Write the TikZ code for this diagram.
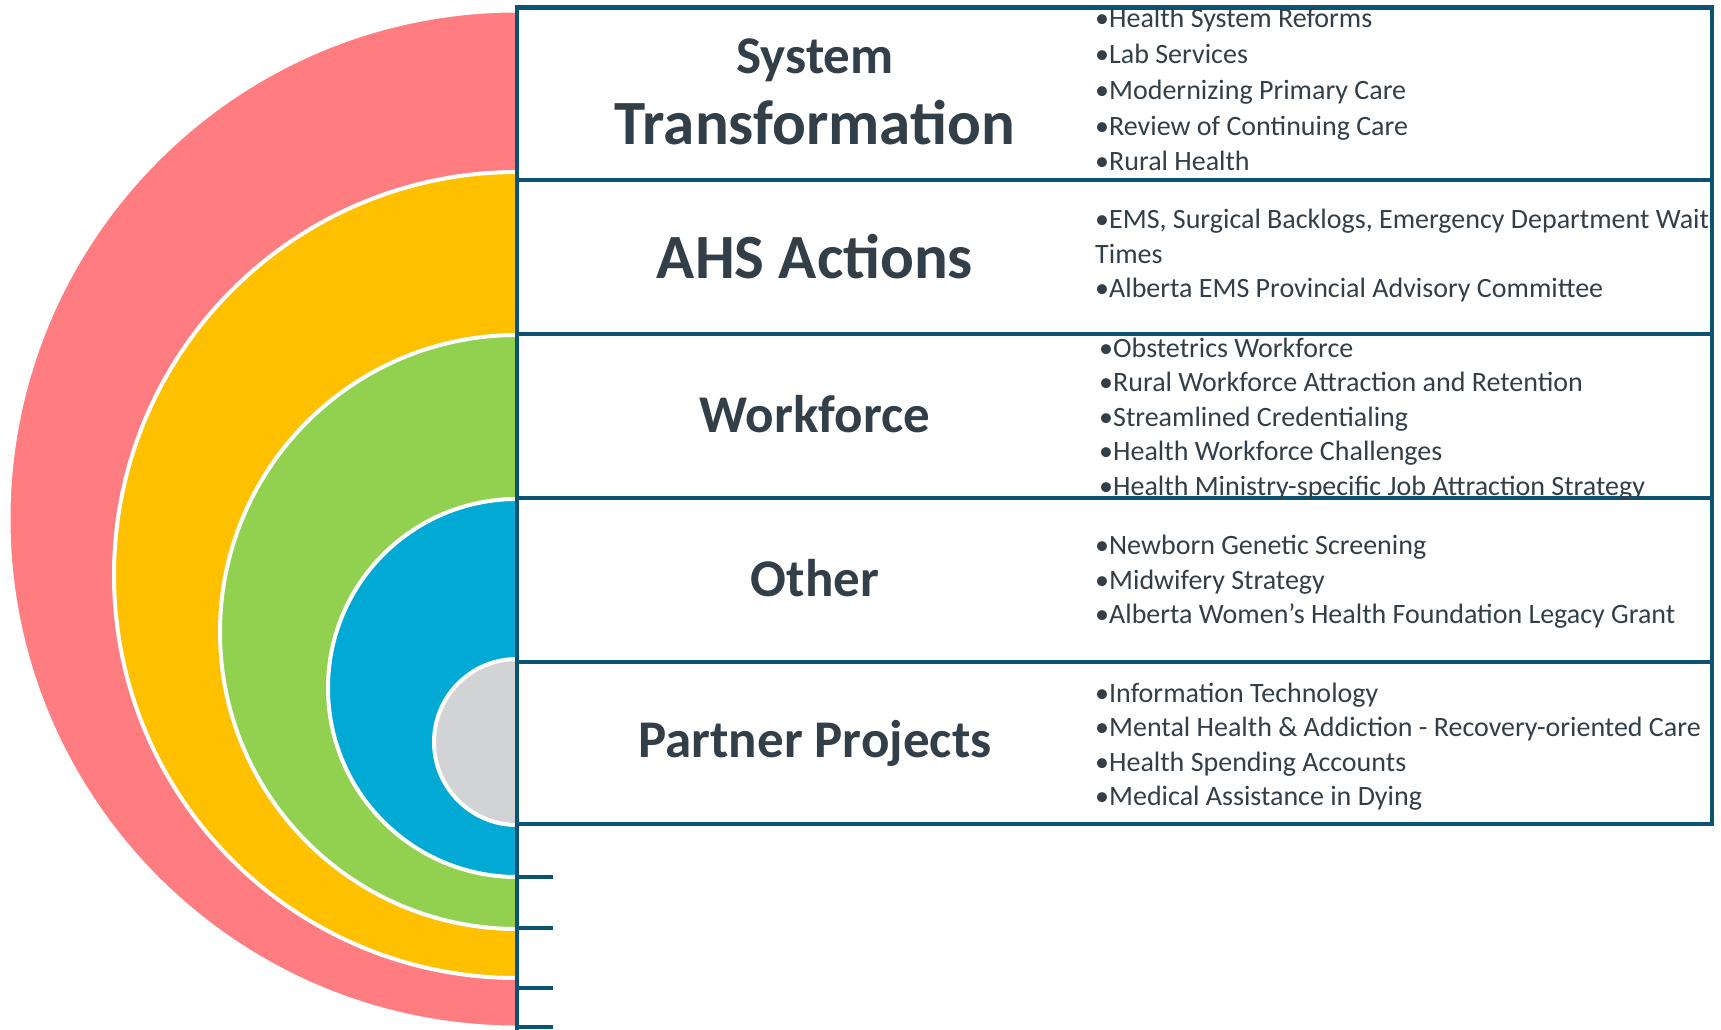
\documentclass[tikz,border=0pt]{standalone}
\usepackage{fontspec}
\setmainfont{Carlito}
\usepackage{tikz}
\usetikzlibrary{positioning}

\definecolor{ringred}{HTML}{FF7C80}
\definecolor{ringyellow}{HTML}{FFC000}
\definecolor{ringgreen}{HTML}{92D050}
\definecolor{ringblue}{HTML}{00AAD4}
\definecolor{ringgrey}{HTML}{D1D3D4}
\definecolor{framecol}{HTML}{0B5273}
\definecolor{inkcol}{HTML}{333F48}

\begin{document}
\begin{tikzpicture}[x=1pt, y=-1pt,
        panel/.style={rectangle, draw=framecol, line width=4.5pt, fill=white, minimum width=1195pt, inner sep=0pt, outer sep=0pt, anchor=north west},
        heading/.style={text=inkcol, font=\bfseries\fontsize{53pt}{71pt}\selectfont, align=center},
        items/.style={text=inkcol, font=\fontsize{28pt}{34.5pt}\selectfont, align=left, anchor=west, inner sep=0pt},
        ring/.style={draw=white, line width=4pt},
        frameline/.style={draw=framecol, line width=4.5pt}]
        \useasboundingbox (0,0) rectangle (1721,1030);

        % half discs, largest first
        \foreach \cy/\r/\col in {519/508.5/ringred, 575/403/ringyellow, 632/297/ringgreen, 688/189/ringblue, 742/83/ringgrey}
            \filldraw[ring, fill=\col] (517,\cy-\r) arc[start angle=270, end angle=90, radius=\r] -- cycle;

        % boxes
        \node (sysbox) [panel, minimum height=172.5pt] at (517,7.5) {};
        \node (ahsbox) [panel, minimum height=154pt] at (sysbox.south west) {};
        \node (workbox) [panel, minimum height=164pt] at (ahsbox.south west) {};
        \node (otherbox) [panel, minimum height=164pt] at (workbox.south west) {};
        \node (partbox) [panel, minimum height=162pt] at (otherbox.south west) {};

        % titles
        \node (systitle) [heading] at ([xshift=298pt, yshift=2pt]sysbox.west) {System\\\fontsize{63pt}{71pt}\selectfont Transformation};
        \node (ahstitle) [heading, font=\bfseries\fontsize{63pt}{71pt}\selectfont] at ([xshift=298pt]ahsbox.west) {AHS Actions};
        \node (worktitle) [heading] at ([xshift=298pt, yshift=2pt]workbox.west) {Workforce};
        \node (othertitle) [heading] at ([xshift=298pt, yshift=2pt]otherbox.west) {Other};
        \node (parttitle) [heading] at ([xshift=298pt]partbox.west) {Partner Projects};

        % item lists
        \node (syslist) [items, font=\fontsize{28pt}{35.7pt}\selectfont, right=578pt of sysbox.west, yshift=4pt] {•Health System Reforms\\•Lab Services\\•Modernizing Primary Care\\•Review of Continuing Care\\•Rural Health};
        \node (ahslist) [items, right=578pt of ahsbox.west, yshift=1pt] {•EMS, Surgical Backlogs, Emergency Department Wait\\Times\\•Alberta EMS Provincial Advisory Committee};
        \node (worklist) [items, right=582pt of workbox.west, yshift=-3pt] {•Obstetrics Workforce\\•Rural Workforce Attraction and Retention\\•Streamlined Credentialing\\•Health Workforce Challenges\\•Health Ministry-specific Job Attraction Strategy};
        \node (otherlist) [items, right=578pt of otherbox.west, yshift=-2pt] {•Newborn Genetic Screening\\•Midwifery Strategy\\•Alberta Women’s Health Foundation Legacy Grant};
        \node (partlist) [items, right=578pt of partbox.west, yshift=-3.5pt] {•Information Technology\\•Mental Health \& Addiction - Recovery-oriented Care\\•Health Spending Accounts\\•Medical Assistance in Dying};

        % left rule and ticks
        \draw[frameline] (sysbox.north west) -- (517,1030);
        \foreach \ty in {877,928,988,1027}
            \draw[frameline] (517,\ty) -- (553,\ty);
\end{tikzpicture}
\end{document}
